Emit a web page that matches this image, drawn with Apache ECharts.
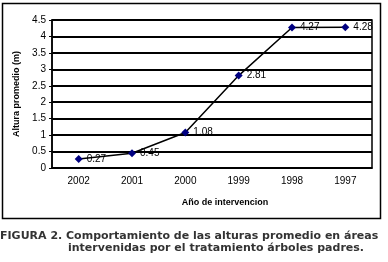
<!DOCTYPE html>
<html><head><meta charset="utf-8">
<script src="https://cdn.jsdelivr.net/npm/echarts@6/dist/echarts.min.js"></script>
<style>html,body{margin:0;padding:0;background:#fff}#c{width:388px;height:262px}</style>
</head><body><div id="c"></div>
<script>
var categories = ['2002','2001','2000','1999','1998','1997'];
var values = [0.27, 0.45, 1.08, 2.81, 4.27, 4.28];
var valueLabels = ['0.27','0.45','1.08','2.81','4.27','4.28'];
var chart = echarts.init(document.getElementById('c'), null, {renderer:'canvas'});
var F = 'Liberation Sans, Arial, sans-serif';
var FC = 'DejaVu Sans, sans-serif';
chart.setOption({
  animation:false,
  backgroundColor:'#fff',
  grid:{left:52, right:16, top:20, bottom:94},
  xAxis:{
    type:'category', data:categories, boundaryGap:true,
    name:'Año de intervencion', nameLocation:'middle', nameGap:30,
    nameTextStyle:{fontFamily:F, fontSize:9, fontWeight:'bold', color:'#000', padding:[0,0,0,26]},
    axisLine:{lineStyle:{color:'#000', width:1.5}},
    axisTick:{show:false},
    axisLabel:{fontFamily:F, fontSize:10, color:'#000', margin:8},
    splitLine:{show:false}
  },
  yAxis:{
    type:'value', min:0, max:4.5, interval:0.5,
    name:'Altura promedio (m)', nameLocation:'middle', nameGap:30, nameRotate:90,
    nameTextStyle:{fontFamily:F, fontSize:9, fontWeight:'bold', color:'#000'},
    axisLine:{show:true, lineStyle:{color:'#000', width:1.5}},
    axisTick:{show:true, length:3, lineStyle:{color:'#000'}},
    axisLabel:{fontFamily:F, fontSize:10, color:'#000', margin:6, formatter:function(v){return String(v);}},
    splitLine:{show:true, lineStyle:{color:'#000', width:2}}
  },
  series:[{
    type:'line', data:values, smooth:false,
    symbol:'diamond', symbolSize:8,
    itemStyle:{color:'#000080'},
    lineStyle:{color:'#000', width:1.5},
    label:{show:true, position:'right', distance:4, fontFamily:F, fontSize:10, color:'#000',
      formatter:function(p){return valueLabels[p.dataIndex];}},
    z:5
  }],
  graphic:[
    {type:'rect', shape:{x:2.5, y:3.5, width:378, height:215}, style:{fill:'none', stroke:'#000', lineWidth:1.5}, z:-1},
    {type:'rect', shape:{x:52, y:20, width:320, height:148}, style:{fill:'none', stroke:'#000', lineWidth:1.5}, z:10},
    {type:'text', left:0, top:231, style:{text:'FIGURA 2. Comportamiento de las alturas promedio en áreas', fontFamily:FC, fontSize:11, fontWeight:'bold', fill:'#333'}},
    {type:'text', left:68, top:243, style:{text:'intervenidas por el tratamiento árboles padres.', fontFamily:FC, fontSize:11, fontWeight:'bold', fill:'#333'}}
  ]
});
</script></body></html>
